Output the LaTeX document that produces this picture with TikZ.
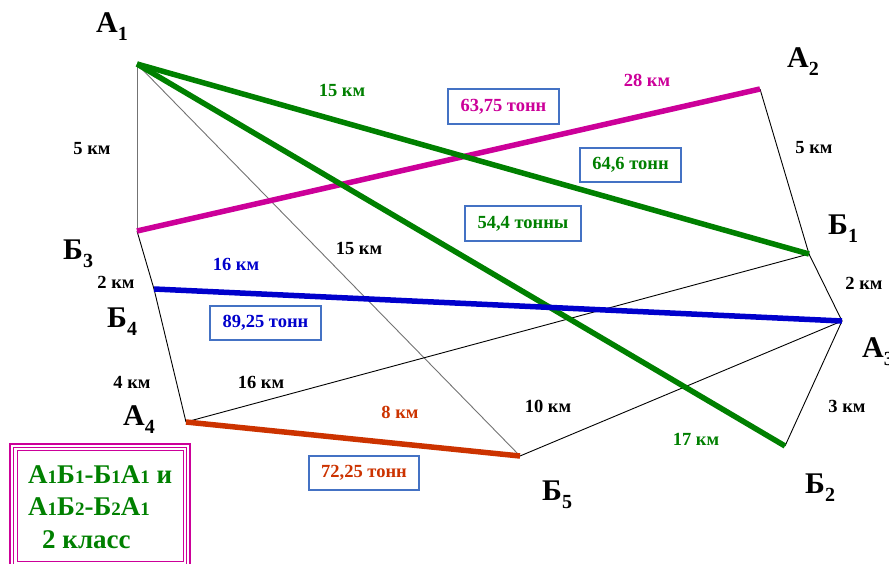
\documentclass[tikz,border=0pt]{standalone}
\usepackage{fontspec}
\setmainfont{Liberation Serif}
\definecolor{routegreen}{RGB}{0,128,0}
\definecolor{routemag}{RGB}{204,0,153}
\definecolor{routeblue}{RGB}{0,0,204}
\definecolor{routered}{RGB}{204,51,0}
\definecolor{boxblue}{RGB}{68,114,196}
\newcommand\vsub[1]{\raisebox{-8pt}{\fontsize{20}{20}\selectfont #1}}
\newcommand\lsmall[1]{{\fontsize{19}{19}\selectfont #1}}
\tikzset{
  vlabel/.style={font=\fontsize{30}{30}\selectfont\bfseries, inner sep=0pt, anchor=base west},
  dist/.style={font=\fontsize{18.5}{18.5}\selectfont\bfseries, inner sep=0pt},
  load/.style={dist, draw=boxblue, line width=1.1pt, fill=white},
  thinroad/.style={line width=0.9pt, black},
  greyroad/.style={line width=0.9pt, black!55},
  route/.style={line width=5.5pt},
  legend/.style={font=\fontsize{27}{27}\selectfont\bfseries, text=routegreen, inner sep=0pt, anchor=base west},
  frame/.style={draw=routemag}
}
\begin{document}
\begin{tikzpicture}[x=1pt,y=-1pt]
\useasboundingbox (0,0) rectangle (889,564);
% points of supply (А) and demand (Б)
\coordinate (A1) at (137,64);
\coordinate (A2) at (760,89);
\coordinate (A3) at (842,321);
\coordinate (A4) at (186,422);
\coordinate (B1) at (809,254);
\coordinate (B2) at (785,446);
\coordinate (B3) at (137,231);
\coordinate (B4) at (154,289);
\coordinate (B5) at (520,456);

% thin road network
\draw[greyroad] (A1) -- (B3);
\draw[greyroad] (A1) -- (B5);
\draw[thinroad] (B3) -- (B4) -- (A4);
\draw[thinroad] (A2) -- (B1) -- (A3) -- (B2);
\draw[thinroad] (A4) -- (B1);
\draw[thinroad] (B5) -- (A3);

% chosen routes
\draw[route, routemag] (B3) -- (A2);
\draw[route, routegreen] (A1) -- (B1);
\draw[route, routegreen] (A1) -- (B2);
\draw[route, routeblue] (B4) -- (A3);
\draw[route, routered] (A4) -- (B5);

% vertex names
\node[vlabel] (nA1) at (96,33) {А\vsub{1}};
\node[vlabel] (nA2) at (787,68) {А\vsub{2}};
\node[vlabel] (nA3) at (862,357) {А\vsub{3}};
\node[vlabel] (nA4) at (123,425) {А\vsub{4}};
\node[vlabel] (nB1) at (828,235) {Б\vsub{1}};
\node[vlabel] (nB2) at (805,493) {Б\vsub{2}};
\node[vlabel] (nB3) at (63,260) {Б\vsub{3}};
\node[vlabel] (nB4) at (107,327) {Б\vsub{4}};
\node[vlabel] (nB5) at (542,500) {Б\vsub{5}};

% distances
\node[dist] (d1) at (92,149) {5 км};
\node[dist, text=routegreen] (d2) at (342,90) {15 км};
\node[dist, text=routemag] (d3) at (647,80) {28 км};
\node[dist] (d4) at (814,148) {5 км};
\node[dist] (d5) at (359,248) {15 км};
\node[dist] (d6) at (864,283) {2 км};
\node[dist, text=routeblue] (d7) at (236,264) {16 км};
\node[dist] (d8) at (116,282) {2 км};
\node[dist] (d9) at (132,382) {4 км};
\node[dist] (d10) at (261,382) {16 км};
\node[dist, text=routered] (d11) at (400,412) {8 км};
\node[dist] (d12) at (548,406) {10 км};
\node[dist] (d13) at (847,406) {3 км};
\node[dist, text=routegreen] (d14) at (696,439) {17 км};

% transported amounts
\node[load, text=routemag, minimum width=111pt, minimum height=35pt] (t1) at (503.5,106.5) {63,75 тонн};
\node[load, text=routegreen, minimum width=101pt, minimum height=34pt] (t2) at (630.5,165) {64,6 тонн};
\node[load, text=routegreen, minimum width=116pt, minimum height=35pt] (t3) at (523,223.5) {54,4 тонны};
\node[load, text=routeblue, minimum width=111pt, minimum height=34pt] (t4) at (265.5,323) {89,25 тонн};
\node[load, text=routered, minimum width=110pt, minimum height=34pt] (t5) at (364,473) {72,25 тонн};

% legend frame
\draw[frame, line width=2pt] (10,444) rectangle (190,572);
\draw[frame, line width=1pt] (13.5,447.5) rectangle (186.5,568);
\draw[frame, line width=1pt] (17,450.5) rectangle (183.5,561);
\node[legend] (l1) at (28,483) {А\lsmall{1}Б\lsmall{1}-Б\lsmall{1}А\lsmall{1} и};
\node[legend] (l2) at (28,515) {А\lsmall{1}Б\lsmall{2}-Б\lsmall{2}А\lsmall{1}};
\node[legend] (l3) at (42,548) {2 класс};
\end{tikzpicture}
\end{document}
